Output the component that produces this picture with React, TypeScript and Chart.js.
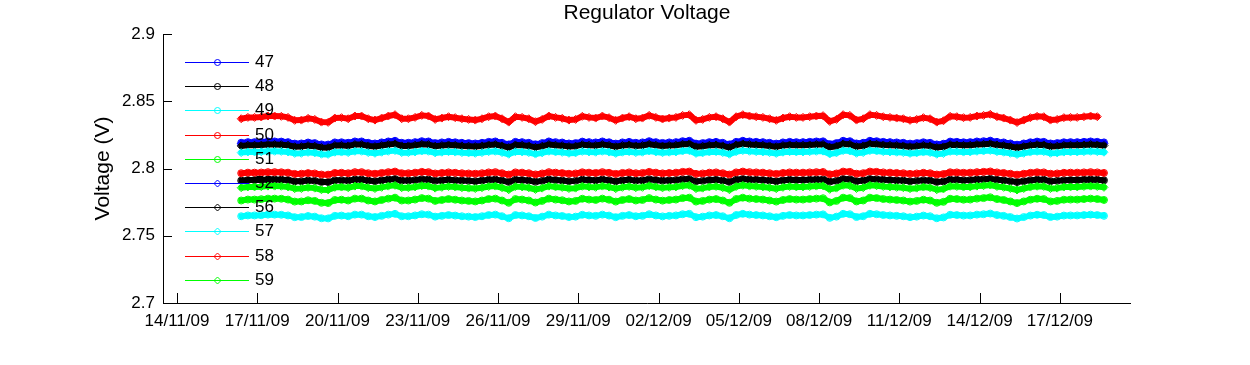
import { useEffect, useRef } from 'react';
import { Chart, registerables } from 'chart.js';

Chart.register(...registerables);

const TITLE = 'Regulator Voltage';
const Y_LABEL = 'Voltage (V)';

// x axis: days after 14/11/09 00:00
const X_MIN = -0.523;
const X_MAX = 35.66;
const X_TICK_DAYS = [0, 3, 6, 9, 12, 15, 18, 21, 24, 27, 30, 33];
const X_TICK_LABELS = ['14/11/09', '17/11/09', '20/11/09', '23/11/09', '26/11/09', '29/11/09', '02/12/09', '05/12/09', '08/12/09', '11/12/09', '14/12/09', '17/12/09'];
const Y_TICKS = [2.7, 2.75, 2.8, 2.85, 2.9];
const Y_TICK_LABELS = ['2.7', '2.75', '2.8', '2.85', '2.9'];

// sampling grid of the readings (every 6 h from 16/11/09 09:36)
const SAMPLE_START_DAY = 2.4;
const SAMPLE_STEP_DAY = 0.25;

const SERIES_NAMES = ['47', '48', '49', '50', '51', '52', '56', '57', '58', '59'];

const v47 = [
  2.8191, 2.8196, 2.8196, 2.8197, 2.8201, 2.8201, 2.8200, 2.8196, 2.8185, 2.8186,
  2.8193, 2.8189, 2.8179, 2.8178, 2.8194, 2.8195, 2.8191, 2.8201, 2.8201, 2.8191,
  2.8186, 2.8194, 2.8201, 2.8206, 2.8191, 2.8191, 2.8196, 2.8203, 2.8201, 2.8189,
  2.8194, 2.8198, 2.8195, 2.8191, 2.8189, 2.8186, 2.8191, 2.8198, 2.8201, 2.8191,
  2.8179, 2.8198, 2.8196, 2.8191, 2.8180, 2.8189, 2.8201, 2.8196, 2.8193, 2.8186,
  2.8189, 2.8200, 2.8196, 2.8194, 2.8201, 2.8195, 2.8185, 2.8194, 2.8198, 2.8191,
  2.8194, 2.8203, 2.8196, 2.8190, 2.8194, 2.8196, 2.8203, 2.8206, 2.8185, 2.8189,
  2.8196, 2.8198, 2.8191, 2.8179, 2.8198, 2.8206, 2.8201, 2.8198, 2.8196, 2.8191,
  2.8185, 2.8194, 2.8198, 2.8196, 2.8196, 2.8198, 2.8201, 2.8202, 2.8181, 2.8189,
  2.8206, 2.8203, 2.8186, 2.8191, 2.8206, 2.8203, 2.8198, 2.8196, 2.8194, 2.8191,
  2.8185, 2.8189, 2.8195, 2.8191, 2.8179, 2.8184, 2.8200, 2.8198, 2.8195, 2.8196,
  2.8201, 2.8203, 2.8207, 2.8198, 2.8194, 2.8186, 2.8177, 2.8186, 2.8195, 2.8200,
  2.8198, 2.8186, 2.8189, 2.8195, 2.8196, 2.8196, 2.8198, 2.8201, 2.8198, 2.8194,
];
const v48 = [
  2.7910, 2.7914, 2.7914, 2.7915, 2.7918, 2.7918, 2.7917, 2.7914, 2.7905, 2.7906,
  2.7911, 2.7908, 2.7900, 2.7899, 2.7912, 2.7913, 2.7910, 2.7918, 2.7918, 2.7910,
  2.7906, 2.7912, 2.7918, 2.7922, 2.7910, 2.7910, 2.7914, 2.7920, 2.7918, 2.7908,
  2.7912, 2.7916, 2.7913, 2.7910, 2.7908, 2.7906, 2.7910, 2.7916, 2.7918, 2.7910,
  2.7900, 2.7916, 2.7914, 2.7910, 2.7901, 2.7908, 2.7918, 2.7914, 2.7911, 2.7906,
  2.7908, 2.7917, 2.7914, 2.7912, 2.7918, 2.7913, 2.7905, 2.7912, 2.7916, 2.7910,
  2.7912, 2.7920, 2.7914, 2.7909, 2.7912, 2.7914, 2.7920, 2.7922, 2.7905, 2.7908,
  2.7914, 2.7916, 2.7910, 2.7900, 2.7916, 2.7922, 2.7918, 2.7916, 2.7914, 2.7910,
  2.7905, 2.7912, 2.7916, 2.7914, 2.7914, 2.7916, 2.7918, 2.7919, 2.7902, 2.7908,
  2.7922, 2.7920, 2.7906, 2.7910, 2.7922, 2.7920, 2.7916, 2.7914, 2.7912, 2.7910,
  2.7905, 2.7908, 2.7913, 2.7910, 2.7900, 2.7904, 2.7917, 2.7916, 2.7913, 2.7914,
  2.7918, 2.7920, 2.7923, 2.7916, 2.7912, 2.7906, 2.7899, 2.7906, 2.7913, 2.7917,
  2.7916, 2.7906, 2.7908, 2.7913, 2.7914, 2.7914, 2.7916, 2.7918, 2.7916, 2.7912,
];
const v49 = [
  2.7645, 2.7651, 2.7651, 2.7653, 2.7657, 2.7657, 2.7656, 2.7651, 2.7638, 2.7639,
  2.7647, 2.7642, 2.7630, 2.7629, 2.7648, 2.7650, 2.7645, 2.7657, 2.7657, 2.7645,
  2.7639, 2.7648, 2.7657, 2.7663, 2.7645, 2.7645, 2.7651, 2.7660, 2.7657, 2.7642,
  2.7648, 2.7654, 2.7650, 2.7645, 2.7642, 2.7639, 2.7645, 2.7654, 2.7657, 2.7645,
  2.7630, 2.7654, 2.7651, 2.7645, 2.7632, 2.7642, 2.7657, 2.7651, 2.7647, 2.7639,
  2.7642, 2.7656, 2.7651, 2.7648, 2.7657, 2.7650, 2.7638, 2.7648, 2.7654, 2.7645,
  2.7648, 2.7660, 2.7651, 2.7644, 2.7648, 2.7651, 2.7660, 2.7663, 2.7638, 2.7642,
  2.7651, 2.7654, 2.7645, 2.7630, 2.7654, 2.7663, 2.7657, 2.7654, 2.7651, 2.7645,
  2.7638, 2.7648, 2.7654, 2.7651, 2.7651, 2.7654, 2.7657, 2.7659, 2.7633, 2.7642,
  2.7663, 2.7660, 2.7639, 2.7645, 2.7663, 2.7660, 2.7654, 2.7651, 2.7648, 2.7645,
  2.7638, 2.7642, 2.7650, 2.7645, 2.7630, 2.7636, 2.7656, 2.7654, 2.7650, 2.7651,
  2.7657, 2.7660, 2.7665, 2.7654, 2.7648, 2.7639, 2.7628, 2.7639, 2.7650, 2.7656,
  2.7654, 2.7639, 2.7642, 2.7650, 2.7651, 2.7651, 2.7654, 2.7657, 2.7654, 2.7648,
];
const v50 = [
  2.7965, 2.7969, 2.7969, 2.7970, 2.7973, 2.7973, 2.7972, 2.7969, 2.7960, 2.7961,
  2.7966, 2.7963, 2.7955, 2.7954, 2.7967, 2.7968, 2.7965, 2.7973, 2.7973, 2.7965,
  2.7961, 2.7967, 2.7973, 2.7977, 2.7965, 2.7965, 2.7969, 2.7975, 2.7973, 2.7963,
  2.7967, 2.7971, 2.7968, 2.7965, 2.7963, 2.7961, 2.7965, 2.7971, 2.7973, 2.7965,
  2.7955, 2.7971, 2.7969, 2.7965, 2.7956, 2.7963, 2.7973, 2.7969, 2.7966, 2.7961,
  2.7963, 2.7972, 2.7969, 2.7967, 2.7973, 2.7968, 2.7960, 2.7967, 2.7971, 2.7965,
  2.7967, 2.7975, 2.7969, 2.7964, 2.7967, 2.7969, 2.7975, 2.7977, 2.7960, 2.7963,
  2.7969, 2.7971, 2.7965, 2.7955, 2.7971, 2.7977, 2.7973, 2.7971, 2.7969, 2.7965,
  2.7960, 2.7967, 2.7971, 2.7969, 2.7969, 2.7971, 2.7973, 2.7974, 2.7957, 2.7963,
  2.7977, 2.7975, 2.7961, 2.7965, 2.7977, 2.7975, 2.7971, 2.7969, 2.7967, 2.7965,
  2.7960, 2.7963, 2.7968, 2.7965, 2.7955, 2.7959, 2.7972, 2.7971, 2.7968, 2.7969,
  2.7973, 2.7975, 2.7978, 2.7971, 2.7967, 2.7961, 2.7954, 2.7961, 2.7968, 2.7972,
  2.7971, 2.7961, 2.7963, 2.7968, 2.7969, 2.7969, 2.7971, 2.7973, 2.7971, 2.7967,
];
const v51 = [
  2.7762, 2.7769, 2.7769, 2.7772, 2.7776, 2.7776, 2.7775, 2.7769, 2.7754, 2.7755,
  2.7764, 2.7759, 2.7745, 2.7743, 2.7766, 2.7768, 2.7762, 2.7776, 2.7776, 2.7762,
  2.7755, 2.7766, 2.7776, 2.7783, 2.7762, 2.7762, 2.7769, 2.7780, 2.7776, 2.7759,
  2.7766, 2.7773, 2.7768, 2.7762, 2.7759, 2.7755, 2.7762, 2.7773, 2.7776, 2.7762,
  2.7745, 2.7773, 2.7769, 2.7762, 2.7747, 2.7759, 2.7776, 2.7769, 2.7764, 2.7755,
  2.7759, 2.7775, 2.7769, 2.7766, 2.7776, 2.7768, 2.7754, 2.7766, 2.7773, 2.7762,
  2.7766, 2.7780, 2.7769, 2.7761, 2.7766, 2.7769, 2.7780, 2.7783, 2.7754, 2.7759,
  2.7769, 2.7773, 2.7762, 2.7745, 2.7773, 2.7783, 2.7776, 2.7773, 2.7769, 2.7762,
  2.7754, 2.7766, 2.7773, 2.7769, 2.7769, 2.7773, 2.7776, 2.7779, 2.7748, 2.7759,
  2.7783, 2.7780, 2.7755, 2.7762, 2.7783, 2.7780, 2.7773, 2.7769, 2.7766, 2.7762,
  2.7754, 2.7759, 2.7768, 2.7762, 2.7745, 2.7752, 2.7775, 2.7773, 2.7768, 2.7769,
  2.7776, 2.7780, 2.7786, 2.7773, 2.7766, 2.7755, 2.7743, 2.7755, 2.7768, 2.7775,
  2.7773, 2.7755, 2.7759, 2.7768, 2.7769, 2.7769, 2.7773, 2.7776, 2.7773, 2.7766,
];
const v52 = [
  2.8184, 2.8189, 2.8189, 2.8190, 2.8194, 2.8194, 2.8193, 2.8189, 2.8178, 2.8179,
  2.8186, 2.8182, 2.8172, 2.8171, 2.8187, 2.8188, 2.8184, 2.8194, 2.8194, 2.8184,
  2.8179, 2.8187, 2.8194, 2.8199, 2.8184, 2.8184, 2.8189, 2.8196, 2.8194, 2.8182,
  2.8187, 2.8191, 2.8188, 2.8184, 2.8182, 2.8179, 2.8184, 2.8191, 2.8194, 2.8184,
  2.8172, 2.8191, 2.8189, 2.8184, 2.8173, 2.8182, 2.8194, 2.8189, 2.8186, 2.8179,
  2.8182, 2.8193, 2.8189, 2.8187, 2.8194, 2.8188, 2.8178, 2.8187, 2.8191, 2.8184,
  2.8187, 2.8196, 2.8189, 2.8183, 2.8187, 2.8189, 2.8196, 2.8199, 2.8178, 2.8182,
  2.8189, 2.8191, 2.8184, 2.8172, 2.8191, 2.8199, 2.8194, 2.8191, 2.8189, 2.8184,
  2.8178, 2.8187, 2.8191, 2.8189, 2.8189, 2.8191, 2.8194, 2.8195, 2.8174, 2.8182,
  2.8199, 2.8196, 2.8179, 2.8184, 2.8199, 2.8196, 2.8191, 2.8189, 2.8187, 2.8184,
  2.8178, 2.8182, 2.8188, 2.8184, 2.8172, 2.8177, 2.8193, 2.8191, 2.8188, 2.8189,
  2.8194, 2.8196, 2.8200, 2.8191, 2.8187, 2.8179, 2.8170, 2.8179, 2.8188, 2.8193,
  2.8191, 2.8179, 2.8182, 2.8188, 2.8189, 2.8189, 2.8191, 2.8194, 2.8191, 2.8187,
];
const v56 = [
  2.8168, 2.8173, 2.8173, 2.8174, 2.8178, 2.8178, 2.8177, 2.8173, 2.8162, 2.8163,
  2.8170, 2.8166, 2.8156, 2.8155, 2.8171, 2.8172, 2.8168, 2.8178, 2.8178, 2.8168,
  2.8163, 2.8171, 2.8178, 2.8183, 2.8168, 2.8168, 2.8173, 2.8180, 2.8178, 2.8166,
  2.8171, 2.8175, 2.8172, 2.8168, 2.8166, 2.8163, 2.8168, 2.8175, 2.8178, 2.8168,
  2.8156, 2.8175, 2.8173, 2.8168, 2.8157, 2.8166, 2.8178, 2.8173, 2.8170, 2.8163,
  2.8166, 2.8177, 2.8173, 2.8171, 2.8178, 2.8172, 2.8162, 2.8171, 2.8175, 2.8168,
  2.8171, 2.8180, 2.8173, 2.8167, 2.8171, 2.8173, 2.8180, 2.8183, 2.8162, 2.8166,
  2.8173, 2.8175, 2.8168, 2.8156, 2.8175, 2.8183, 2.8178, 2.8175, 2.8173, 2.8168,
  2.8162, 2.8171, 2.8175, 2.8173, 2.8173, 2.8175, 2.8178, 2.8179, 2.8158, 2.8166,
  2.8183, 2.8180, 2.8163, 2.8168, 2.8183, 2.8180, 2.8175, 2.8173, 2.8171, 2.8168,
  2.8162, 2.8166, 2.8172, 2.8168, 2.8156, 2.8161, 2.8177, 2.8175, 2.8172, 2.8173,
  2.8178, 2.8180, 2.8184, 2.8175, 2.8171, 2.8163, 2.8154, 2.8163, 2.8172, 2.8177,
  2.8175, 2.8163, 2.8166, 2.8172, 2.8173, 2.8173, 2.8175, 2.8178, 2.8175, 2.8171,
];
const v57 = [
  2.8118, 2.8123, 2.8123, 2.8124, 2.8128, 2.8128, 2.8127, 2.8123, 2.8112, 2.8113,
  2.8120, 2.8116, 2.8106, 2.8105, 2.8121, 2.8122, 2.8118, 2.8128, 2.8128, 2.8118,
  2.8113, 2.8121, 2.8128, 2.8133, 2.8118, 2.8118, 2.8123, 2.8130, 2.8128, 2.8116,
  2.8121, 2.8125, 2.8122, 2.8118, 2.8116, 2.8113, 2.8118, 2.8125, 2.8128, 2.8118,
  2.8106, 2.8125, 2.8123, 2.8118, 2.8107, 2.8116, 2.8128, 2.8123, 2.8120, 2.8113,
  2.8116, 2.8127, 2.8123, 2.8121, 2.8128, 2.8122, 2.8112, 2.8121, 2.8125, 2.8118,
  2.8121, 2.8130, 2.8123, 2.8117, 2.8121, 2.8123, 2.8130, 2.8133, 2.8112, 2.8116,
  2.8123, 2.8125, 2.8118, 2.8106, 2.8125, 2.8133, 2.8128, 2.8125, 2.8123, 2.8118,
  2.8112, 2.8121, 2.8125, 2.8123, 2.8123, 2.8125, 2.8128, 2.8129, 2.8108, 2.8116,
  2.8133, 2.8130, 2.8113, 2.8118, 2.8133, 2.8130, 2.8125, 2.8123, 2.8121, 2.8118,
  2.8112, 2.8116, 2.8122, 2.8118, 2.8106, 2.8111, 2.8127, 2.8125, 2.8122, 2.8123,
  2.8128, 2.8130, 2.8134, 2.8125, 2.8121, 2.8113, 2.8104, 2.8113, 2.8122, 2.8127,
  2.8125, 2.8113, 2.8116, 2.8122, 2.8123, 2.8123, 2.8125, 2.8128, 2.8125, 2.8121,
];
const v58 = [
  2.8370, 2.8380, 2.8380, 2.8383, 2.8390, 2.8390, 2.8388, 2.8380, 2.8358, 2.8360,
  2.8373, 2.8365, 2.8345, 2.8343, 2.8375, 2.8378, 2.8370, 2.8390, 2.8390, 2.8370,
  2.8360, 2.8375, 2.8390, 2.8400, 2.8370, 2.8370, 2.8380, 2.8395, 2.8390, 2.8365,
  2.8375, 2.8385, 2.8378, 2.8370, 2.8365, 2.8360, 2.8370, 2.8385, 2.8390, 2.8370,
  2.8345, 2.8385, 2.8380, 2.8370, 2.8348, 2.8365, 2.8390, 2.8380, 2.8373, 2.8360,
  2.8365, 2.8388, 2.8380, 2.8375, 2.8390, 2.8378, 2.8358, 2.8375, 2.8385, 2.8370,
  2.8375, 2.8395, 2.8380, 2.8368, 2.8375, 2.8380, 2.8395, 2.8400, 2.8358, 2.8365,
  2.8380, 2.8385, 2.8370, 2.8345, 2.8385, 2.8400, 2.8390, 2.8385, 2.8380, 2.8370,
  2.8358, 2.8375, 2.8385, 2.8380, 2.8380, 2.8385, 2.8390, 2.8393, 2.8350, 2.8365,
  2.8400, 2.8395, 2.8360, 2.8370, 2.8400, 2.8395, 2.8385, 2.8380, 2.8375, 2.8370,
  2.8358, 2.8365, 2.8378, 2.8370, 2.8345, 2.8355, 2.8388, 2.8385, 2.8378, 2.8380,
  2.8390, 2.8395, 2.8403, 2.8385, 2.8375, 2.8360, 2.8342, 2.8360, 2.8378, 2.8388,
  2.8385, 2.8360, 2.8365, 2.8378, 2.8380, 2.8380, 2.8385, 2.8390, 2.8385,
];
const v59 = [
  2.7857, 2.7863, 2.7863, 2.7865, 2.7869, 2.7869, 2.7868, 2.7863, 2.7850, 2.7851,
  2.7859, 2.7854, 2.7842, 2.7841, 2.7860, 2.7862, 2.7857, 2.7869, 2.7869, 2.7857,
  2.7851, 2.7860, 2.7869, 2.7875, 2.7857, 2.7857, 2.7863, 2.7872, 2.7869, 2.7854,
  2.7860, 2.7866, 2.7862, 2.7857, 2.7854, 2.7851, 2.7857, 2.7866, 2.7869, 2.7857,
  2.7842, 2.7866, 2.7863, 2.7857, 2.7844, 2.7854, 2.7869, 2.7863, 2.7859, 2.7851,
  2.7854, 2.7868, 2.7863, 2.7860, 2.7869, 2.7862, 2.7850, 2.7860, 2.7866, 2.7857,
  2.7860, 2.7872, 2.7863, 2.7856, 2.7860, 2.7863, 2.7872, 2.7875, 2.7850, 2.7854,
  2.7863, 2.7866, 2.7857, 2.7842, 2.7866, 2.7875, 2.7869, 2.7866, 2.7863, 2.7857,
  2.7850, 2.7860, 2.7866, 2.7863, 2.7863, 2.7866, 2.7869, 2.7871, 2.7845, 2.7854,
  2.7875, 2.7872, 2.7851, 2.7857, 2.7875, 2.7872, 2.7866, 2.7863, 2.7860, 2.7857,
  2.7850, 2.7854, 2.7862, 2.7857, 2.7842, 2.7848, 2.7868, 2.7866, 2.7862, 2.7863,
  2.7869, 2.7872, 2.7877, 2.7866, 2.7860, 2.7851, 2.7840, 2.7851, 2.7862, 2.7868,
  2.7866, 2.7851, 2.7854, 2.7862, 2.7863, 2.7863, 2.7866, 2.7869, 2.7866, 2.7860,
];

const SERIES_VALUES = [v47, v48, v49, v50, v51, v52, v56, v57, v58, v59];

// styles
const SERIES_COLORS = ['#0000ff', '#000000', '#00ffff', '#ff0000', '#00ff00', '#0000ff', '#000000', '#00ffff', '#ff0000', '#00ff00'];
const SERIES_MARKERS = ['circle', 'circle', 'circle', 'circle', 'circle', 'rectRot', 'rectRot', 'rectRot', 'rectRot', 'rectRot'];
const FONT = '"Liberation Sans", Arial, Helvetica, sans-serif';
const TICK_FONT_SIZE = 17;
const LABEL_FONT_SIZE = 21;

function drawMarker(ctx: CanvasRenderingContext2D, style: string, x: number, y: number) {
  ctx.beginPath();
  if (style === 'circle') {
    ctx.arc(x, y, 3, 0, Math.PI * 2);
  } else {
    const r = 3.5;
    ctx.moveTo(x, y - r);
    ctx.lineTo(x + r, y);
    ctx.lineTo(x, y + r);
    ctx.lineTo(x - r, y);
    ctx.closePath();
  }
  ctx.stroke();
}

const decorPlugin = {
  id: 'matlabDecor',
  afterDraw(chart: any) {
    const ctx: CanvasRenderingContext2D = chart.ctx;
    const { left, right, top, bottom } = chart.chartArea;
    const xs = chart.scales.x;
    const ys = chart.scales.y;
    ctx.save();
    ctx.strokeStyle = '#000';
    ctx.lineWidth = 1;
    // axes lines
    ctx.beginPath();
    ctx.moveTo(left + 0.5, top);
    ctx.lineTo(left + 0.5, bottom + 0.5);
    ctx.lineTo(right, bottom + 0.5);
    ctx.stroke();
    // inward ticks
    X_TICK_DAYS.forEach((d) => {
      const px = Math.round(xs.getPixelForValue(d)) + 0.5;
      ctx.beginPath();
      ctx.moveTo(px, bottom);
      ctx.lineTo(px, bottom - 10);
      ctx.stroke();
    });
    Y_TICKS.forEach((v) => {
      const py = Math.round(ys.getPixelForValue(v)) + 0.5;
      ctx.beginPath();
      ctx.moveTo(left, py);
      ctx.lineTo(left + 9, py);
      ctx.stroke();
    });
    // title
    ctx.fillStyle = '#000';
    ctx.font = `${LABEL_FONT_SIZE}px ${FONT}`;
    ctx.textAlign = 'center';
    ctx.textBaseline = 'middle';
    ctx.fillText(TITLE, (left + right) / 2, 13);
    // y label
    ctx.save();
    ctx.translate(103, (top + bottom) / 2);
    ctx.rotate(-Math.PI / 2);
    ctx.fillText(Y_LABEL, 0, 0);
    ctx.restore();
    // legend
    ctx.font = `${TICK_FONT_SIZE}px ${FONT}`;
    ctx.textAlign = 'left';
    SERIES_NAMES.forEach((name, i) => {
      const y = Math.round(62 + i * 24.2) + 0.5;
      ctx.strokeStyle = SERIES_COLORS[i];
      ctx.lineWidth = 1;
      ctx.beginPath();
      ctx.moveTo(185, y);
      ctx.lineTo(249, y);
      ctx.stroke();
      drawMarker(ctx, SERIES_MARKERS[i], 217.5, y);
      ctx.fillStyle = '#000';
      ctx.fillText(name, 255, y);
    });
    ctx.restore();
  },
};

export default function App() {
  const ref = useRef<HTMLCanvasElement>(null);
  useEffect(() => {
    if (!ref.current) return;
    const datasets = SERIES_NAMES.map((name, i) => ({
      label: name,
      data: SERIES_VALUES[i].map((v, k) => ({ x: SAMPLE_START_DAY + k * SAMPLE_STEP_DAY, y: v })),
      borderColor: SERIES_COLORS[i],
      backgroundColor: 'rgba(0,0,0,0)',
      borderWidth: 6,
      borderJoinStyle: 'round',
      borderCapStyle: 'round',
      pointStyle: SERIES_MARKERS[i],
      pointRadius: SERIES_MARKERS[i] === 'circle' ? 3.5 : 4,
      pointBorderWidth: 1,
      pointBorderColor: SERIES_COLORS[i],
      pointBackgroundColor: 'rgba(0,0,0,0)',
      tension: 0,
      fill: false,
      order: SERIES_NAMES.length - i,
    }));
    const chart = new Chart(ref.current, {
      type: 'line',
      data: { datasets },
      plugins: [decorPlugin],
      options: {
        animation: false,
        responsive: false,
        devicePixelRatio: 1,
        layout: { padding: { top: 34, right: 119, bottom: 0, left: 0 } },
        plugins: { legend: { display: false }, title: { display: false }, tooltip: { enabled: false } },
        scales: {
          x: {
            type: 'linear',
            min: X_MIN,
            max: X_MAX,
            afterBuildTicks: (scale: any) => {
              scale.ticks = X_TICK_DAYS.map((v) => ({ value: v }));
            },
            afterFit: (scale: any) => {
              scale.height = 62;
            },
            grid: { display: false, drawTicks: false },
            border: { display: false },
            ticks: {
              autoSkip: false,
              maxRotation: 0,
              padding: 8,
              color: '#000',
              font: { family: FONT, size: TICK_FONT_SIZE },
              callback: (value: any) => X_TICK_LABELS[X_TICK_DAYS.indexOf(Number(value))] ?? '',
            },
          },
          y: {
            type: 'linear',
            min: 2.7,
            max: 2.9,
            afterBuildTicks: (scale: any) => {
              scale.ticks = Y_TICKS.map((v) => ({ value: v }));
            },
            afterFit: (scale: any) => {
              scale.width = 163;
            },
            grid: { display: false, drawTicks: false },
            border: { display: false },
            ticks: {
              padding: 8,
              color: '#000',
              font: { family: FONT, size: TICK_FONT_SIZE },
              callback: (value: any) => Y_TICK_LABELS[Y_TICKS.indexOf(Number(value))] ?? '',
            },
          },
        },
      } as any,
    } as any);
    return () => chart.destroy();
  }, []);
  return (
    <div style={{ position: 'absolute', left: 0, top: 0, width: 1250, height: 365, background: '#fff' }}>
      <canvas ref={ref} width={1250} height={365} style={{ display: 'block', width: 1250, height: 365 }} />
    </div>
  );
}
